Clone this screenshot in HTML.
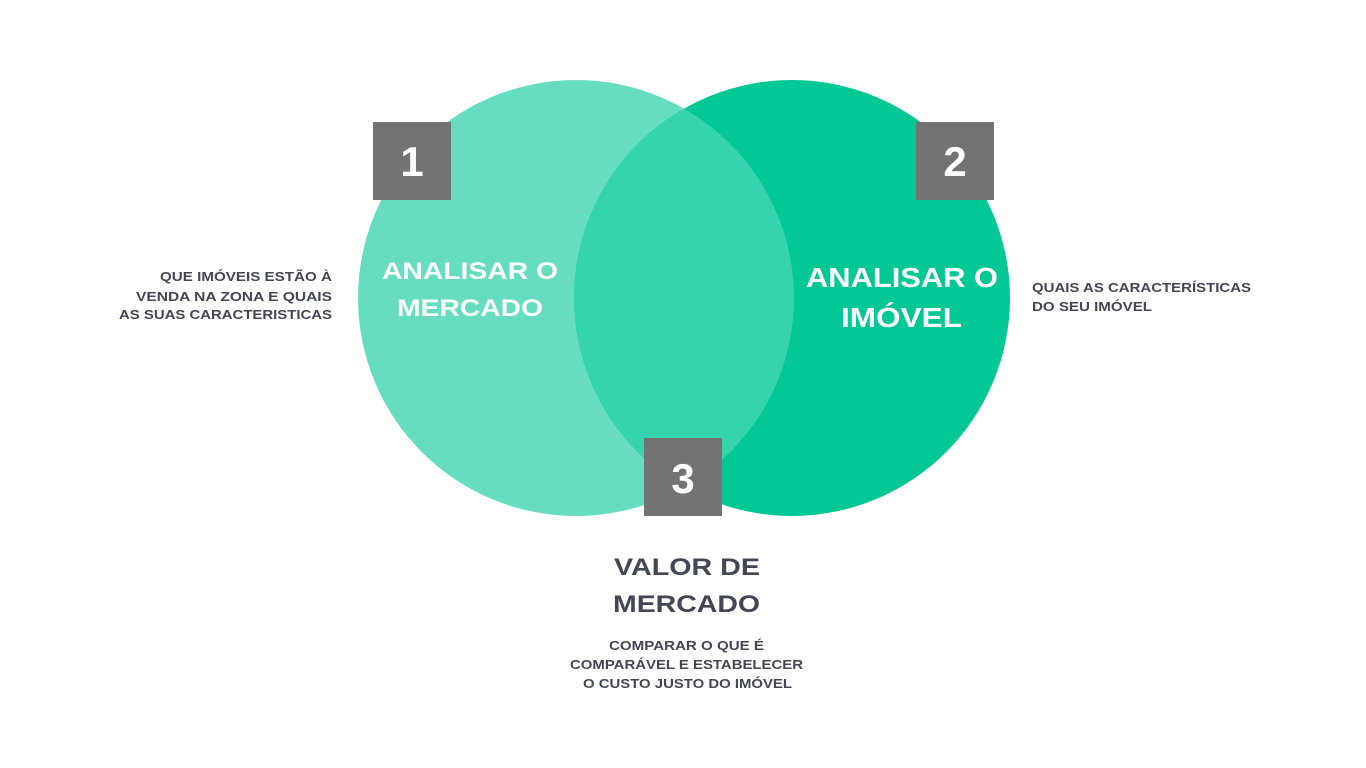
<!DOCTYPE html>
<html><head><meta charset="utf-8"><style>
html,body{margin:0;padding:0;background:#fff;}
svg{display:block;}
text{font-family:"Liberation Sans",sans-serif;font-weight:bold;}
</style></head><body>
<svg width="1366" height="768" viewBox="0 0 1366 768" xmlns="http://www.w3.org/2000/svg">
<rect width="1366" height="768" fill="#fff"/>
<defs><clipPath id="cl"><circle cx="576" cy="298" r="218"/></clipPath></defs>
<circle cx="576" cy="298" r="218" fill="#67DDC0"/>
<circle cx="792" cy="298" r="218" fill="#03C795"/>
<circle cx="792" cy="298" r="218" fill="#35D4AC" clip-path="url(#cl)"/>
<rect x="373" y="122" width="78" height="78" fill="#737373"/>
<rect x="916" y="122" width="78" height="78" fill="#737373"/>
<rect x="644" y="438" width="78" height="78" fill="#737373"/>
<g fill="#fff" font-size="42" text-anchor="middle">
<text x="412" y="176">1</text>
<text x="955" y="176">2</text>
<text x="683" y="493">3</text>
</g>
<g fill="#fff" font-size="24" lengthAdjust="spacingAndGlyphs">
<text x="382" y="279" textLength="176" lengthAdjust="spacingAndGlyphs">ANALISAR O</text>
<text x="397" y="316" textLength="146" lengthAdjust="spacingAndGlyphs">MERCADO</text>
</g>
<g fill="#fff" font-size="28">
<text x="806" y="287" textLength="192" lengthAdjust="spacingAndGlyphs">ANALISAR O</text>
<text x="841" y="327" textLength="121" lengthAdjust="spacingAndGlyphs">IMÓVEL</text>
</g>
<g fill="#434754" font-size="13">
<text x="160" y="281" textLength="172" lengthAdjust="spacingAndGlyphs">QUE IMÓVEIS ESTÃO À</text>
<text x="136" y="301" textLength="196" lengthAdjust="spacingAndGlyphs">VENDA NA ZONA E QUAIS</text>
<text x="119" y="319" textLength="213" lengthAdjust="spacingAndGlyphs">AS SUAS CARACTERISTICAS</text>
<text x="1032" y="292" textLength="219" lengthAdjust="spacingAndGlyphs">QUAIS AS CARACTERÍSTICAS</text>
<text x="1032" y="311" textLength="120" lengthAdjust="spacingAndGlyphs">DO SEU IMÓVEL</text>
<text x="609" y="650" textLength="155" lengthAdjust="spacingAndGlyphs">COMPARAR O QUE É</text>
<text x="570" y="669" textLength="233" lengthAdjust="spacingAndGlyphs">COMPARÁVEL E ESTABELECER</text>
<text x="583" y="688" textLength="209" lengthAdjust="spacingAndGlyphs">O CUSTO JUSTO DO IMÓVEL</text>
</g>
<g fill="#434754" font-size="24">
<text x="614" y="575" textLength="146" lengthAdjust="spacingAndGlyphs">VALOR DE</text>
<text x="613" y="612" textLength="147" lengthAdjust="spacingAndGlyphs">MERCADO</text>
</g>
</svg>
</body></html>
